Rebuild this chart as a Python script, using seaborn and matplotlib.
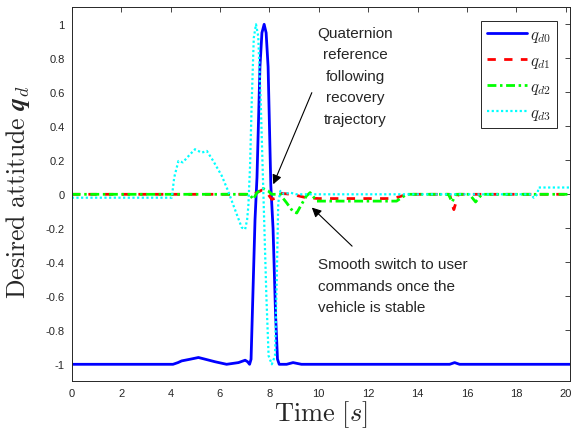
import numpy as np
import pandas as pd
import matplotlib
matplotlib.use("Agg")
import matplotlib.pyplot as plt
import seaborn as sns

# valores
t_q0 = [0, 4.1, 4.3, 4.45, 4.8, 5.13, 5.4, 5.8, 6.27, 6.75, 7.02, 7.12, 7.2, 7.26, 7.42,
        7.5, 7.62, 7.7, 7.79, 7.87, 7.95, 8.06, 8.15, 8.25, 8.33, 8.4, 8.7, 8.96, 9.3,
        15.3, 15.5, 15.7, 20.2]
q0 = [-1, -1, -0.99, -0.98, -0.97, -0.96, -0.97, -0.985, -1.0, -0.99, -0.976, -0.985, -1.0, -0.97, -0.15,
      0.1, 0.75, 0.95, 1.0, 0.95, 0.75, 0.05, -0.2, -0.7, -0.97, -1.0, -1.0, -0.99, -1.0,
      -1.0, -0.99, -1.0, -1.0]

t_q1 = [0, 7.3, 7.5, 7.7, 7.85, 8.0, 8.1, 8.3, 8.43, 8.9, 9.5, 10.0, 13.0, 13.6,
        15.3, 15.4, 15.47, 15.55, 15.65, 20.2]
q1 = [0, 0, 0.01, 0.025, 0.02, -0.01, -0.03, -0.02, 0.006, 0.0, -0.02, -0.025, -0.025, 0.0,
      0.0, -0.06, -0.09, -0.05, 0.0, 0.0]

t_q2 = [0, 7.2, 7.35, 7.5, 7.75, 7.95, 8.1, 8.43, 8.7, 8.95, 9.11, 9.3, 9.5, 9.65, 9.92,
        11.3, 13.15, 13.56, 15.25, 15.4, 15.55, 16.1, 16.35, 16.6, 20.2]
q2 = [0, 0, -0.03, 0.01, 0.034, 0.02, 0.0, 0.0, -0.05, -0.1, -0.11, -0.06, -0.01, 0.01, -0.04,
      -0.04, -0.04, 0.0, 0.0, -0.045, 0.0, 0.0, -0.045, 0.0, 0.0]

t_q3 = [0, 4.05, 4.15, 4.32, 4.5, 4.79, 4.99, 5.26, 5.47, 5.73, 6.07, 6.33, 6.61, 6.88, 7.02,
        7.1, 7.15, 7.22, 7.29, 7.37, 7.46, 7.55, 7.65, 7.76, 7.88, 7.97, 8.1, 8.23, 8.3,
        8.36, 8.45, 8.6, 8.84, 9.1, 9.5, 18.6, 18.7, 18.85, 18.9, 20.2]
q3 = [-0.02, -0.02, 0.1, 0.196, 0.188, 0.235, 0.265, 0.245, 0.255, 0.196, 0.11, 0.02, -0.09, -0.195, -0.206,
      -0.15, -0.07, 0.17, 0.56, 0.92, 1.0, 0.93, 0.55, 0.0, -0.6, -0.95, -1.0, -0.95, -0.5,
      -0.05, 0.02, 0.0, 0.01, 0.0, 0.0, 0.0, -0.02, 0.0, 0.04, 0.04]

etiquetas = [r"$q_{d0}$", r"$q_{d1}$", r"$q_{d2}$", r"$q_{d3}$"]

sns.set_style("white")
plt.rcParams["font.family"] = ["Liberation Sans", "DejaVu Sans"]
plt.rcParams["mathtext.fontset"] = "cm"

fig = plt.figure(figsize=(5.71, 4.31), dpi=100)
ax = fig.add_axes([0.1256, 0.113, 0.8726, 0.8677])

sns.lineplot(x=t_q0, y=q0, ax=ax, color=(0, 0, 1), linewidth=2.0, label=etiquetas[0])
sns.lineplot(x=t_q1, y=q1, ax=ax, color=(1, 0, 0), linewidth=2.0,
             linestyle=(0, (3, 3)), label=etiquetas[1])
sns.lineplot(x=t_q2, y=q2, ax=ax, color=(0, 1, 0), linewidth=2.0,
             linestyle=(0, (3.2, 1.3, 0.9, 1.3)), label=etiquetas[2])
sns.lineplot(x=t_q3, y=q3, ax=ax, color=(0, 1, 1), linewidth=1.6,
             linestyle=(0, (1, 1.1)), label=etiquetas[3])

ax.set_xlim(0, 20.17)
ax.set_ylim(-1.1, 1.1)
ax.set_xticks(np.arange(0, 21, 2))
ax.set_yticks([-1, -0.8, -0.6, -0.4, -0.2, 0, 0.2, 0.4, 0.6, 0.8, 1])
ax.set_yticklabels(["-1", "-0.8", "-0.6", "-0.4", "-0.2", "0", "0.2", "0.4", "0.6", "0.8", "1"])
ax.tick_params(direction="in", length=3.5, width=0.6, top=True, right=True,
               labelsize=8, colors=(0.15, 0.15, 0.15), pad=5)
for s in ax.spines.values():
    s.set_color((0.15, 0.15, 0.15))
    s.set_linewidth(0.7)

ax.set_xlabel(r"$\mathrm{Time}\ [s]$", fontsize=19, labelpad=0)
ax.set_ylabel(r"$\mathrm{Desired\ attitude}\ \boldsymbol{q}_d$", fontsize=18.5)
ax.yaxis.set_label_coords(-0.08, 0.51)

ley = ax.legend(loc="upper right", bbox_to_anchor=(0.973, 0.964), borderaxespad=0,
                fontsize=12, fancybox=False, framealpha=1, edgecolor=(0.15, 0.15, 0.15),
                handlelength=2.4, handletextpad=0.15, labelspacing=0.55, borderpad=0.35)
ley.get_frame().set_linewidth(0.7)

flecha = dict(arrowstyle="-|>", color="black", lw=0.8, mutation_scale=14, shrinkA=0, shrinkB=0)
ax.annotate("", xy=(8.16, 0.059), xytext=(9.72, 0.598), arrowprops=flecha)
ax.annotate("", xy=(9.72, -0.078), xytext=(11.35, -0.305), arrowprops=flecha)
ax.text(11.47, 0.99, "Quaternion\nreference\nfollowing\nrecovery\ntrajectory",
        ha="center", va="top", fontsize=11, linespacing=1.68)
ax.text(9.97, -0.37, "Smooth switch to user\ncommands once the\nvehicle is stable",
        ha="left", va="top", fontsize=11, linespacing=1.68)

fig.savefig("out.png", dpi=100)
